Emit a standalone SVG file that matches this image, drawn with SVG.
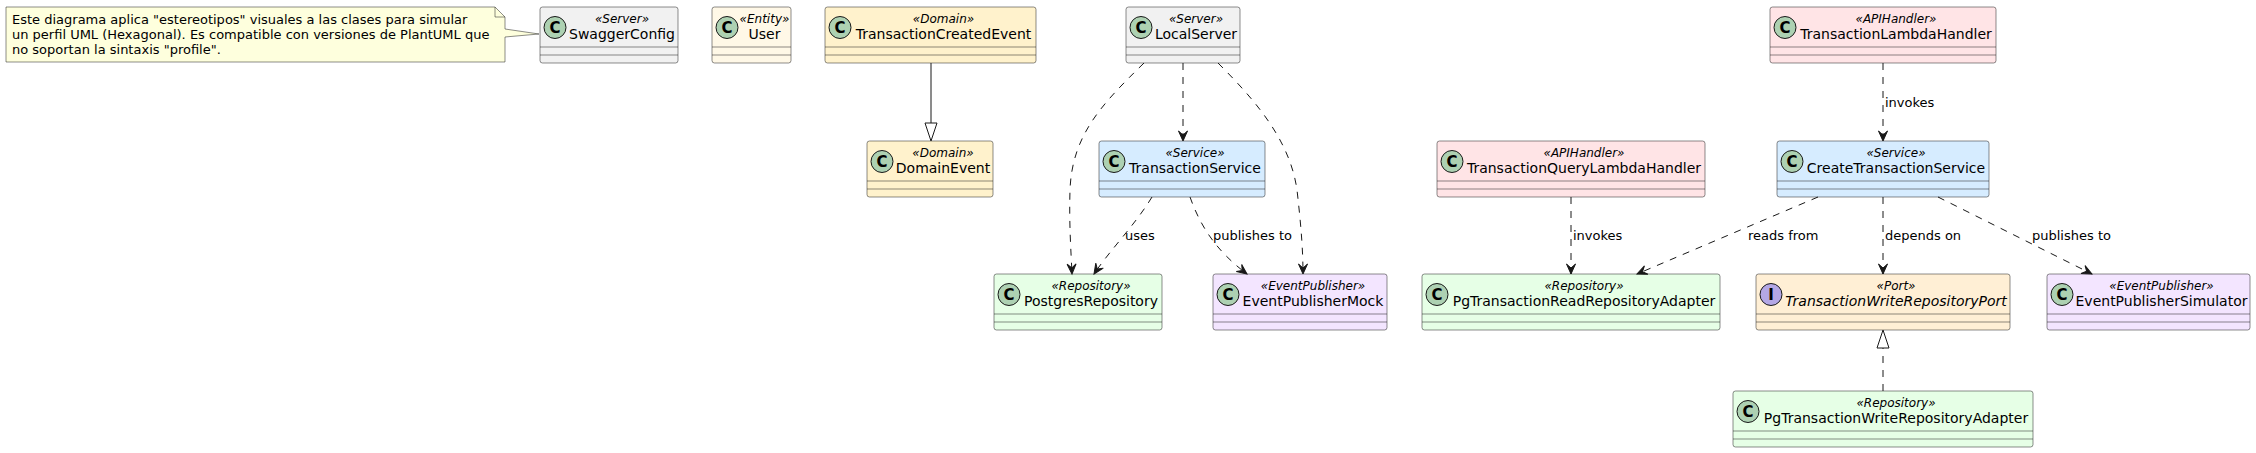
<svg xmlns="http://www.w3.org/2000/svg" width="2256" height="453" viewBox="0 0 2256 453">
<style>
text{font-family:"DejaVu Sans","Liberation Sans",sans-serif;fill:#000000}
.box{stroke:#181818;stroke-width:0.5}
.sep{stroke:#181818;stroke-width:0.5;fill:none}
.cc{fill:#ADD1B2;stroke:#181818;stroke-width:1}
.ci{fill:#B4A7E5;stroke:#181818;stroke-width:1}
.cl{font-size:15px;font-weight:bold;text-anchor:middle}
.st{font-size:12px;font-style:italic;text-anchor:middle}
.nm{font-size:14px;text-anchor:middle}
.it{font-style:italic}
.lbl{font-size:13px}
.nt{font-size:13px}
.ln{fill:none;stroke:#181818;stroke-width:1}
.dash{fill:none;stroke:#181818;stroke-width:1;stroke-dasharray:7,7}
.srv{fill:#F1F1F1}.ent{fill:#FFF8E7}.dom{fill:#FFF2CC}.svc{fill:#D6ECFF}
.rep{fill:#E6FFE6}.pub{fill:#F3E5FF}.api{fill:#FFE4E6}.port{fill:#FFEFD5}
</style>
<defs>
<marker id="dep" markerUnits="userSpaceOnUse" markerWidth="12" markerHeight="12" viewBox="-11 -6 12 12" refX="0" refY="0" orient="auto" overflow="visible">
<path d="M0,0 L-10,-4.5 L-6,0 L-10,4.5 Z" fill="#181818" stroke="#181818" stroke-width="1"/>
</marker>
</defs>

<g id="note">
<path d="M6,7 L6,62 L505,62 L505,37 L539,34 L505,29 L505,17 L495,7 Z" fill="#FEFFDD" stroke="#181818" stroke-width="0.5"/>
<path d="M495,7 L495,17 L505,17" fill="none" stroke="#181818" stroke-width="0.5"/>
<text class="nt" x="12" y="24">Este diagrama aplica "estereotipos" visuales a las clases para simular</text>
<text class="nt" x="12" y="39">un perfil UML (Hexagonal). Es compatible con versiones de PlantUML que</text>
<text class="nt" x="12" y="54">no soportan la sintaxis "profile".</text>
</g>

<g id="SwaggerConfig">
<rect class="box srv" x="540" y="7" width="138" height="56" rx="2.5"/>
<circle class="cc" cx="555" cy="27.5" r="11"/><text class="cl" x="555" y="33">C</text>
<text class="st" x="622" y="23">«Server»</text>
<text class="nm" x="622" y="39">SwaggerConfig</text>
<path class="sep" d="M540,47 H678 M540,55 H678"/>
</g>

<g id="User">
<rect class="box ent" x="712" y="7" width="79" height="56" rx="2.5"/>
<circle class="cc" cx="727" cy="27.5" r="11"/><text class="cl" x="727" y="33">C</text>
<text class="st" x="764.5" y="23">«Entity»</text>
<text class="nm" x="764.5" y="39">User</text>
<path class="sep" d="M712,47 H791 M712,55 H791"/>
</g>

<g id="TransactionCreatedEvent">
<rect class="box dom" x="825" y="7" width="211" height="56" rx="2.5"/>
<circle class="cc" cx="840" cy="27.5" r="11"/><text class="cl" x="840" y="33">C</text>
<text class="st" x="943.5" y="23">«Domain»</text>
<text class="nm" x="943.5" y="39">TransactionCreatedEvent</text>
<path class="sep" d="M825,47 H1036 M825,55 H1036"/>
</g>

<g id="LocalServer">
<rect class="box srv" x="1126" y="7" width="114" height="56" rx="2.5"/>
<circle class="cc" cx="1141" cy="27.5" r="11"/><text class="cl" x="1141" y="33">C</text>
<text class="st" x="1196" y="23">«Server»</text>
<text class="nm" x="1196" y="39">LocalServer</text>
<path class="sep" d="M1126,47 H1240 M1126,55 H1240"/>
</g>

<g id="TransactionLambdaHandler">
<rect class="box api" x="1770" y="7" width="226" height="56" rx="2.5"/>
<circle class="cc" cx="1785" cy="27.5" r="11"/><text class="cl" x="1785" y="33">C</text>
<text class="st" x="1896" y="23">«APIHandler»</text>
<text class="nm" x="1896" y="39">TransactionLambdaHandler</text>
<path class="sep" d="M1770,47 H1996 M1770,55 H1996"/>
</g>

<g id="DomainEvent">
<rect class="box dom" x="867" y="141" width="126" height="56" rx="2.5"/>
<circle class="cc" cx="882" cy="161.5" r="11"/><text class="cl" x="882" y="167">C</text>
<text class="st" x="943" y="157">«Domain»</text>
<text class="nm" x="943" y="173">DomainEvent</text>
<path class="sep" d="M867,181 H993 M867,189 H993"/>
</g>

<g id="TransactionService">
<rect class="box svc" x="1099" y="141" width="166" height="56" rx="2.5"/>
<circle class="cc" cx="1114" cy="161.5" r="11"/><text class="cl" x="1114" y="167">C</text>
<text class="st" x="1195" y="157">«Service»</text>
<text class="nm" x="1195" y="173">TransactionService</text>
<path class="sep" d="M1099,181 H1265 M1099,189 H1265"/>
</g>

<g id="TransactionQueryLambdaHandler">
<rect class="box api" x="1437" y="141" width="268" height="56" rx="2.5"/>
<circle class="cc" cx="1452" cy="161.5" r="11"/><text class="cl" x="1452" y="167">C</text>
<text class="st" x="1584" y="157">«APIHandler»</text>
<text class="nm" x="1584" y="173">TransactionQueryLambdaHandler</text>
<path class="sep" d="M1437,181 H1705 M1437,189 H1705"/>
</g>

<g id="CreateTransactionService">
<rect class="box svc" x="1777" y="141" width="212" height="56" rx="2.5"/>
<circle class="cc" cx="1792" cy="161.5" r="11"/><text class="cl" x="1792" y="167">C</text>
<text class="st" x="1896" y="157">«Service»</text>
<text class="nm" x="1896" y="173">CreateTransactionService</text>
<path class="sep" d="M1777,181 H1989 M1777,189 H1989"/>
</g>

<g id="PostgresRepository">
<rect class="box rep" x="994" y="274" width="168" height="56" rx="2.5"/>
<circle class="cc" cx="1009" cy="294.5" r="11"/><text class="cl" x="1009" y="300">C</text>
<text class="st" x="1091" y="290">«Repository»</text>
<text class="nm" x="1091" y="306">PostgresRepository</text>
<path class="sep" d="M994,314 H1162 M994,322 H1162"/>
</g>

<g id="EventPublisherMock">
<rect class="box pub" x="1213" y="274" width="174" height="56" rx="2.5"/>
<circle class="cc" cx="1228" cy="294.5" r="11"/><text class="cl" x="1228" y="300">C</text>
<text class="st" x="1313" y="290">«EventPublisher»</text>
<text class="nm" x="1313" y="306">EventPublisherMock</text>
<path class="sep" d="M1213,314 H1387 M1213,322 H1387"/>
</g>

<g id="PgTransactionReadRepositoryAdapter">
<rect class="box rep" x="1422" y="274" width="298" height="56" rx="2.5"/>
<circle class="cc" cx="1437" cy="294.5" r="11"/><text class="cl" x="1437" y="300">C</text>
<text class="st" x="1584" y="290">«Repository»</text>
<text class="nm" x="1584" y="306">PgTransactionReadRepositoryAdapter</text>
<path class="sep" d="M1422,314 H1720 M1422,322 H1720"/>
</g>

<g id="TransactionWriteRepositoryPort">
<rect class="box port" x="1756" y="274" width="254" height="56" rx="2.5"/>
<circle class="ci" cx="1771" cy="294.5" r="11"/><text class="cl" x="1771" y="300">I</text>
<text class="st" x="1896" y="290">«Port»</text>
<text class="nm it" x="1896" y="306">TransactionWriteRepositoryPort</text>
<path class="sep" d="M1756,314 H2010 M1756,322 H2010"/>
</g>

<g id="EventPublisherSimulator">
<rect class="box pub" x="2047" y="274" width="203" height="56" rx="2.5"/>
<circle class="cc" cx="2062" cy="294.5" r="11"/><text class="cl" x="2062" y="300">C</text>
<text class="st" x="2161.5" y="290">«EventPublisher»</text>
<text class="nm" x="2161.5" y="306">EventPublisherSimulator</text>
<path class="sep" d="M2047,314 H2250 M2047,322 H2250"/>
</g>

<g id="PgTransactionWriteRepositoryAdapter">
<rect class="box rep" x="1733" y="391" width="300" height="56" rx="2.5"/>
<circle class="cc" cx="1748" cy="411.5" r="11"/><text class="cl" x="1748" y="417">C</text>
<text class="st" x="1896" y="407">«Repository»</text>
<text class="nm" x="1896" y="423">PgTransactionWriteRepositoryAdapter</text>
<path class="sep" d="M1733,431 H2033 M1733,439 H2033"/>
</g>

<g id="connectors">
<path class="ln" d="M931,63 L931,123"/>
<polygon points="931,141 925,123 937,123" fill="none" stroke="#181818" stroke-width="1"/>

<path class="dash" d="M1183,63 L1183,141" marker-end="url(#dep)"/>
<path class="dash" d="M1144,63 C1102,104 1072,135 1070,190 C1069,225 1071,250 1072,274" marker-end="url(#dep)"/>
<path class="dash" d="M1218,63 C1255,100 1290,140 1297,190 C1301,225 1303,250 1303,274" marker-end="url(#dep)"/>
<path class="dash" d="M1152,197 C1135,225 1110,250 1094,274" marker-end="url(#dep)"/>
<text class="lbl" x="1125" y="240">uses</text>
<path class="dash" d="M1190,197 C1200,225 1215,250 1247,274" marker-end="url(#dep)"/>
<text class="lbl" x="1213" y="240">publishes to</text>

<path class="dash" d="M1571,197 L1571,274" marker-end="url(#dep)"/>
<text class="lbl" x="1573" y="240">invokes</text>

<path class="dash" d="M1883,63 L1883,141" marker-end="url(#dep)"/>
<text class="lbl" x="1885" y="107">invokes</text>

<path class="dash" d="M1818,197 L1637,274" marker-end="url(#dep)"/>
<text class="lbl" x="1748" y="240">reads from</text>

<path class="dash" d="M1883,197 L1883,274" marker-end="url(#dep)"/>
<text class="lbl" x="1885" y="240">depends on</text>

<path class="dash" d="M1938,197 L2092,274" marker-end="url(#dep)"/>
<text class="lbl" x="2032" y="240">publishes to</text>

<path class="dash" d="M1883,391 L1883,348"/>
<polygon points="1883,330 1877,348 1889,348" fill="none" stroke="#181818" stroke-width="1"/>
</g>
</svg>
